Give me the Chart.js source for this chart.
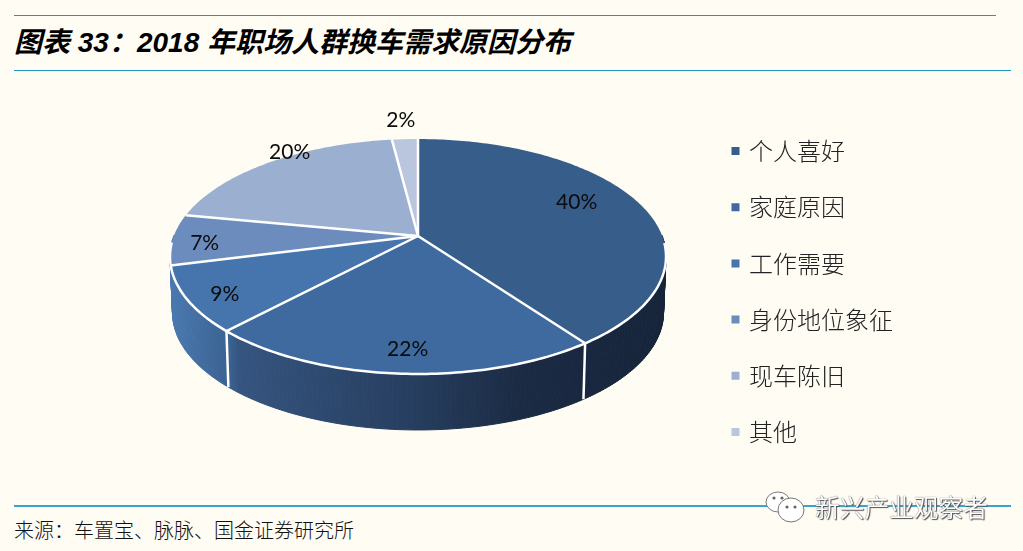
<!DOCTYPE html>
<html>
<head>
<meta charset="utf-8">
<script src="https://cdn.jsdelivr.net/npm/chart.js@4"></script>
<style>
html,body{margin:0;padding:0;background:#fffcf3;width:1023px;height:551px;overflow:hidden;}
#wrap{position:relative;width:1023px;height:551px;}
canvas{position:absolute;left:0;top:0;}
.rule{position:absolute;height:1px;background:#1f95c8;left:14px;}
.txt{position:absolute;white-space:nowrap;}
#title{left:14px;top:22px;font:italic bold 28px "Liberation Sans","Noto Sans CJK SC",sans-serif;line-height:42px;color:#000;}
#source{left:14px;top:516px;font:20px/28px "Noto Sans CJK SC",sans-serif;color:#111;font-weight:300;}
#mark{left:815px;top:489px;font:24.7px/34px "Noto Sans CJK SC",sans-serif;color:#fff;text-shadow:0 0 1px #333,1px 1px 1px #555;}
#icon{position:absolute;left:764px;top:489px;}
</style>
</head>
<body>
<div id="wrap">
<div class="rule" style="top:15px;width:982px"></div>
<div class="rule" style="top:70px;width:997px"></div>
<div class="rule" style="top:505px;width:997px;height:2px;background:#3aa3cf"></div>
<div class="txt" id="title">图表 33：2018 年职场人群换车需求原因分布</div>
<div class="txt" id="source">来源：车置宝、脉脉、国金证券研究所</div>
<canvas id="chart" width="1023" height="551"></canvas>
<svg id="icon" width="46" height="38" viewBox="0 0 46 38">
  <ellipse cx="14" cy="13" rx="12" ry="10" fill="#fff" stroke="#777"/>
  <ellipse cx="27" cy="21" rx="13" ry="12" fill="#fff" stroke="#777"/>
  <circle cx="23" cy="18" r="1.6" fill="#666"/><circle cx="31" cy="18" r="1.6" fill="#666"/>
  <circle cx="10" cy="9" r="1.6" fill="#666"/><circle cx="18" cy="9" r="1.6" fill="#666"/>
</svg>
<div class="txt" id="mark">新兴产业观察者</div>
</div>
<script>
const categories = ["个人喜好","家庭原因","工作需要","身份地位象征","现车陈旧","其他"];
const shares = [40,22,9,7,20,2];
const sliceColors = ["#375d8a","#3f6a9f","#4674ad","#6c8cbd","#9bafd0","#b9c6dd"];

// where each % label sits: fraction of the radius, then pixel nudges
const labelRadius = [0.7,0.85,0.85,0.87,0.88,1.2];
const labelLift = [10,0,-5,-4,18,3];
const labelShift = [2,5,0,0,4,-2];

// perspective of the tilted disc, fitted to the picture
const apexX = 418, apexY = 236;
const discA = 244.2, discB = 113.9, discK = -0.1745;
const wallDepth = 56, wallShrink = 0.99;

function project(angle, f){
    const u = Math.cos(angle)*f, v = Math.sin(angle)*f;
    const d = 1 + discK*v;
    return {x: apexX + discA*u/d, y: apexY + discB*v/d, v};
}
function arcPoints(el){
    const pts = [];
    const steps = Math.max(4, Math.ceil((el.endAngle-el.startAngle)*60));
    for(let i=0;i<=steps;i++){
        pts.push(project(el.startAngle+(el.endAngle-el.startAngle)*i/steps, 1));
    }
    return pts;
}
function under(p){
    return {x: apexX+(p.x-apexX)*wallShrink, y: p.y+wallDepth};
}

const pie3d = {
    id:"pie3d",
    beforeDatasetDraw(chart,args){
        const ctx = chart.ctx;
        const arcs = chart.getDatasetMeta(args.index).data;
        const grad = ctx.createLinearGradient(170,0,666,0);
        grad.addColorStop(0,"#4a79b0");
        grad.addColorStop(0.12,"#3a6291");
        grad.addColorStop(0.14,"#35547f");
        grad.addColorStop(0.5,"#263d5e");
        grad.addColorStop(0.7,"#1b2b44");
        grad.addColorStop(1,"#16243a");
        ctx.save();
        ctx.lineJoin = "round";
        // side wall, strip by strip so the silhouette closes at the sides
        ctx.fillStyle = grad;
        ctx.strokeStyle = grad;
        ctx.lineWidth = 1;
        arcs.forEach(el=>{
            const pts = arcPoints(el);
            for(let i=0;i<pts.length-1;i++){
                const a = pts[i], b = pts[i+1], c = under(b), d = under(a);
                if(a.v < 0 && b.v < 0) continue; // back side stays hidden
                ctx.beginPath();
                ctx.moveTo(a.x,a.y);ctx.lineTo(b.x,b.y);ctx.lineTo(c.x,c.y);ctx.lineTo(d.x,d.y);
                ctx.closePath();
                ctx.fill();
                ctx.stroke();
            }
        });
        // wall seams, only the ones facing us
        ctx.strokeStyle = "#fff";
        ctx.lineWidth = 2.5;
        arcs.forEach(el=>{
            const p = project(el.startAngle,1);
            if(p.v < 0.5) return;
            const q = under(p);
            ctx.beginPath();ctx.moveTo(p.x,p.y);ctx.lineTo(q.x,q.y);ctx.stroke();
        });
        // top face
        arcs.forEach((el,i)=>{
            const pts = arcPoints(el);
            ctx.beginPath();
            ctx.moveTo(apexX,apexY);
            pts.forEach(p=>ctx.lineTo(p.x,p.y));
            ctx.closePath();
            ctx.fillStyle = sliceColors[i];
            ctx.fill();
        });
        arcs.forEach(el=>{
            const p = project(el.startAngle,1);
            ctx.beginPath();ctx.moveTo(apexX,apexY);ctx.lineTo(p.x,p.y);ctx.stroke();
        });
        // rim along the front
        arcs.forEach(el=>{
            const pts = arcPoints(el).filter(p=>p.v>0.05);
            if(pts.length<2) return;
            ctx.beginPath();
            pts.forEach((p,i)=>i?ctx.lineTo(p.x,p.y):ctx.moveTo(p.x,p.y));
            ctx.stroke();
        });
        // % labels
        ctx.fillStyle = "#0b0b0b";
        ctx.font = '21px Lato, sans-serif';
        ctx.textAlign = "center";
        ctx.textBaseline = "middle";
        arcs.forEach((el,i)=>{
            const p = project((el.startAngle+el.endAngle)/2, labelRadius[i]);
            ctx.fillText(shares[i]+"%", p.x+labelShift[i], p.y-labelLift[i]);
        });
        ctx.restore();
        return false;
    }
};

new Chart(document.getElementById("chart"),{
    type:"pie",
    data:{
        labels:categories,
        datasets:[{data:shares,backgroundColor:sliceColors,borderWidth:0}]
    },
    plugins:[pie3d],
    options:{
        responsive:false,
        animation:false,
        layout:{padding:{top:32,right:120}},
        plugins:{
            tooltip:{enabled:false},
            legend:{
                position:"right",
                labels:{
                    usePointStyle:true,
                    pointStyle:"rect",
                    boxWidth:3,
                    boxHeight:8,
                    padding:32.2,
                    color:"#222",
                    font:{family:'"Noto Sans CJK SC"',size:24,weight:300}
                }
            }
        }
    }
});
</script>
</body>
</html>
